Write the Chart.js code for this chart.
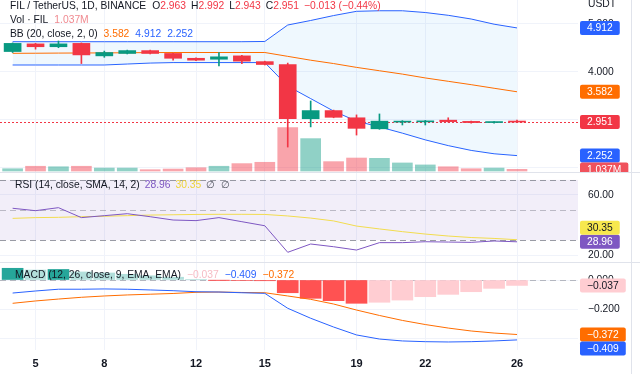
<!DOCTYPE html>
<html><head><meta charset="utf-8">
<script src="https://cdn.jsdelivr.net/npm/chart.js@4.4.1/dist/chart.umd.min.js"></script>
<style>
html,body{margin:0;padding:0;background:#fff;}
#wrap{position:relative;width:640px;height:374px;overflow:hidden;font-family:"Liberation Sans",Arial,sans-serif;color:#131722;}
canvas{position:absolute;left:0;}
.row{position:absolute;display:flex;font-size:10.3px;line-height:12px;white-space:nowrap;}
.row span{display:inline-block;}
#vline{position:absolute;left:631px;top:0;width:1px;height:374px;background:#e0e3eb;}
</style></head><body>
<div id="wrap">
<canvas id="c1" width="640" height="172" style="top:0;width:640px;height:172px"></canvas>
<canvas id="c2" width="640" height="90" style="top:172px;width:640px;height:90px"></canvas>
<canvas id="c3" width="640" height="112" style="top:262px;width:640px;height:112px"></canvas>
<div id="vline"></div>
<div id="legend"></div>
</div>
<script>
// ---------- data ----------
const days    = [4,5,6,7,8,9,10,11,12,13,14,15,16,17,18,19,20,21,22,23,24,25,26];
const opens   = [4.42,4.58,4.52,4.59,4.33,4.38,4.44,4.38,4.28,4.26,4.33,4.21,4.15,3.02,3.19,3.04,2.81,2.95,2.955,2.99,2.965,2.94,2.963];
const highs   = [4.60,4.59,4.64,4.60,4.43,4.45,4.45,4.39,4.29,4.40,4.34,4.22,4.18,3.39,3.20,3.10,3.12,2.98,2.985,3.04,2.97,2.96,2.992];
const lows    = [4.40,4.47,4.50,4.17,4.30,4.37,4.37,4.24,4.23,4.12,4.17,4.14,2.43,2.85,3.04,2.68,2.80,2.89,2.89,2.95,2.93,2.93,2.943];
const closes  = [4.59,4.52,4.58,4.35,4.40,4.44,4.38,4.28,4.24,4.31,4.22,4.15,3.02,3.19,3.05,2.82,2.97,2.97,2.975,2.96,2.94,2.955,2.951];
const volumes = [1.4,2.9,2.6,2.9,1.8,1.8,0.8,1.2,2.0,2.9,4.5,5.3,26.4,19.7,5.7,7.9,7.7,4.9,3.7,2.6,1.4,1.8,1.037]; // millions
const bbUpper = [4.625,4.625,4.625,4.625,4.625,4.625,4.625,4.625,4.625,4.625,4.625,4.63,4.973,5.067,5.17,5.258,5.27,5.27,5.233,5.175,5.098,4.99,4.912];
const bbBasis = [4.383,4.385,4.388,4.39,4.392,4.395,4.398,4.40,4.40,4.40,4.40,4.40,4.32,4.24,4.17,4.09,4.02,3.95,3.87,3.80,3.73,3.655,3.582];
const bbLower = [4.14,4.14,4.14,4.14,4.14,4.16,4.18,4.19,4.19,4.19,4.19,4.19,3.70,3.44,3.18,2.97,2.85,2.72,2.58,2.46,2.36,2.29,2.252];
const rsi     = [51.2,49.6,51.6,45.0,46.3,47.6,45.6,43.4,43.0,45.0,42.3,39.6,22.0,27.5,25.7,23.5,28.4,28.4,29.0,28.8,28.6,29.5,28.96];
const rsiMA   = [44.5,45.0,45.2,45.6,45.9,46.3,46.7,46.9,47.1,47.2,47.2,47.1,46.1,44.7,42.8,39.4,37.5,35.7,34.1,32.8,31.8,31.2,30.35];
const macd    = [-0.089,-0.075,-0.063,-0.063,-0.061,-0.063,-0.068,-0.073,-0.080,-0.082,-0.087,-0.091,-0.193,-0.261,-0.321,-0.375,-0.403,-0.416,-0.421,-0.423,-0.421,-0.416,-0.409];
const signal  = [-0.159,-0.143,-0.130,-0.118,-0.109,-0.102,-0.097,-0.092,-0.084,-0.082,-0.085,-0.087,-0.109,-0.132,-0.164,-0.205,-0.242,-0.276,-0.304,-0.328,-0.348,-0.362,-0.372];
const hist    = [0.080,0.068,0.072,0.055,0.048,0.039,0.029,0.019,0.004,-0.001,-0.003,-0.005,-0.087,-0.125,-0.141,-0.159,-0.152,-0.137,-0.114,-0.098,-0.080,-0.057,-0.037];
const timeTicks  = [5,8,12,15,19,22,26];
const priceTicks = [5,4,3,2];
const rsiTicks   = [60,20];
const macdTicks  = [0,-0.2,-0.4];
const rsiBands   = [70,50,30];

// ---------- style ----------
const FONT = '"Liberation Sans", Arial, sans-serif';
const UP = '#089981', DN = '#f23645';
const BLUE = '#2962ff', ORANGE = '#ff6d00', PURPLE = '#7e57c2', YELLOW = '#f2dc4e';
const GRID = '#f0f3fa';
const X_MIN = 3.45, X_MAX = 28.66;
const last = days.length - 1;
const fmt = (v, d) => (v < 0 ? '\u2212' : '') + Math.abs(v).toFixed(d);
const pts = arr => days.map((d, i) => ({x: d, y: arr[i]}));
const isUp = closes.map((c, i) => c >= opens[i]);

function xAxis(show) {
  return {
    type: 'linear', min: X_MIN, max: X_MAX, offset: false,
    afterBuildTicks: s => { s.ticks = timeTicks.map(v => ({value: v})); },
    afterFit: s => { s.height = show ? 24 : 0; s.paddingLeft = 0; s.paddingRight = 0; },
    grid: {color: GRID, drawTicks: false, offset: false},
    border: {display: false},
    ticks: {display: show, padding: 7, color: '#131722', maxRotation: 0,
      font: {size: 11, weight: 'bold', family: FONT}, callback: v => String(v)}
  };
}
function yAxis(min, max, ticks, dec) {
  return {
    position: 'right', min, max,
    afterBuildTicks: s => { s.ticks = ticks.map(v => ({value: v})); },
    afterFit: s => { s.width = 62; s.paddingTop = 0; s.paddingBottom = 0; },
    grid: {color: GRID, drawTicks: false},
    border: {display: false},
    ticks: {padding: 10, color: '#131722', font: {size: 10.3, family: FONT}, callback: v => fmt(v, dec)}
  };
}

function roundRect(ctx, x, y, w, h, r) {
  ctx.beginPath();
  ctx.moveTo(x + r, y); ctx.lineTo(x + w - r, y); ctx.quadraticCurveTo(x + w, y, x + w, y + r);
  ctx.lineTo(x + w, y + h - r); ctx.quadraticCurveTo(x + w, y + h, x + w - r, y + h);
  ctx.lineTo(x + r, y + h); ctx.quadraticCurveTo(x, y + h, x, y + h - r);
  ctx.lineTo(x, y + r); ctx.quadraticCurveTo(x, y, x + r, y); ctx.closePath();
}

const deco = {
  id: 'deco',
  beforeDatasetsDraw(chart, args, o) {
    const {ctx, chartArea: a} = chart; const y = chart.scales.y;
    ctx.save();
    (o.bands || []).forEach(b => {
      const y1 = y.getPixelForValue(b.from), y2 = y.getPixelForValue(b.to);
      ctx.fillStyle = b.color; ctx.fillRect(a.left, Math.min(y1, y2), a.right - a.left, Math.abs(y2 - y1));
    });
    (o.hlines || []).forEach(h => {
      const py = Math.round(y.getPixelForValue(h.value)) + 0.5;
      ctx.strokeStyle = h.color; ctx.lineWidth = 1; ctx.setLineDash(h.dash || []);
      ctx.beginPath(); ctx.moveTo(a.left, py); ctx.lineTo(a.right, py); ctx.stroke();
    });
    ctx.restore();
  },
  afterDraw(chart, args, o) {
    const {ctx, chartArea: a} = chart;
    ctx.save();
    if (o.sepTop) { ctx.fillStyle = '#e0e3eb'; ctx.fillRect(0, 0, chart.width, 1); }
    const H = 14, placed = [];
    (o.labels || []).forEach(l => {
      let cy = chart.scales[l.axis].getPixelForValue(l.value);
      for (let k = 0; k < 5; k++) {
        const hit = placed.find(p => Math.abs(p - cy) < H);
        if (hit === undefined) break;
        cy = cy < hit ? hit - H : hit + H;
      }
      placed.push(cy);
      ctx.font = '10.3px ' + FONT;
      const tw = ctx.measureText(l.text).width;
      const x0 = a.right + 2;
      roundRect(ctx, x0, cy - H / 2, tw + 14, H, 2);
      ctx.fillStyle = l.bg; ctx.fill();
      ctx.fillStyle = l.fg || '#ffffff'; ctx.textBaseline = 'middle'; ctx.textAlign = 'left';
      ctx.fillText(l.text, x0 + 7, cy + 0.5);
    });
    ctx.restore();
  }
};

const base = {
  responsive: false, animation: false, devicePixelRatio: 1, events: [],
  layout: {padding: 0},
  elements: {point: {radius: 0}, line: {tension: 0, borderWidth: 1}}
};

// ---------- price pane ----------
new Chart(document.getElementById('c1'), {
  type: 'line',
  data: {datasets: [
    {type: 'bar', data: days.map((d, i) => ({x: d, y: [opens[i], closes[i]]})),
      backgroundColor: isUp.map(u => u ? UP : DN), barThickness: 17, minBarLength: 1, grouped: false, order: 0},
    {type: 'bar', data: days.map((d, i) => ({x: d, y: [lows[i], highs[i]]})),
      backgroundColor: isUp.map(u => u ? UP : DN), barThickness: 1, grouped: false, order: 1},
    {data: pts(bbUpper), borderColor: BLUE, fill: {target: '+2'}, backgroundColor: 'rgba(33,150,243,0.07)', order: 3},
    {data: pts(bbBasis), borderColor: ORANGE, fill: false, order: 2},
    {data: pts(bbLower), borderColor: BLUE, fill: false, order: 3},
    {type: 'bar', yAxisID: 'yv', data: pts(volumes),
      backgroundColor: isUp.map(u => u ? 'rgba(8,153,129,0.45)' : 'rgba(242,54,69,0.45)'),
      barThickness: 20, grouped: false, order: 10}
  ]},
  options: Object.assign({}, base, {
    scales: {
      x: xAxis(false),
      y: yAxis(1.9104, 5.494, priceTicks, 3),
      yv: {display: false, min: -0.6, max: 104}
    },
    plugins: {legend: {display: false}, tooltip: {enabled: false},
      deco: {
        hlines: [{value: closes[last], color: DN, dash: [2, 2]}],
        labels: [
          {axis: 'y', value: closes[last], text: closes[last].toFixed(3), bg: DN},
          {axis: 'y', value: bbUpper[last], text: bbUpper[last].toFixed(3), bg: BLUE},
          {axis: 'y', value: bbBasis[last], text: bbBasis[last].toFixed(3), bg: ORANGE},
          {axis: 'y', value: bbLower[last], text: bbLower[last].toFixed(3), bg: BLUE},
          {axis: 'yv', value: volumes[last], text: volumes[last].toFixed(3) + 'M', bg: '#f0525c'}
        ]
      }}
  }),
  plugins: [deco]
});

// ---------- RSI pane ----------
new Chart(document.getElementById('c2'), {
  type: 'line',
  data: {datasets: [
    {data: pts(rsi), borderColor: PURPLE, order: 0},
    {data: pts(rsiMA), borderColor: YELLOW, order: 1}
  ]},
  options: Object.assign({}, base, {
    scales: {x: xAxis(false), y: yAxis(15.57, 75.25, rsiTicks, 2)},
    plugins: {legend: {display: false}, tooltip: {enabled: false},
      deco: {
        sepTop: true,
        bands: [{from: rsiBands[0], to: rsiBands[2], color: 'rgba(126,87,194,0.1)'}],
        hlines: [
          {value: rsiBands[0], color: 'rgba(120,123,134,0.75)', dash: [6, 4]},
          {value: rsiBands[1], color: 'rgba(120,123,134,0.45)', dash: [6, 4]},
          {value: rsiBands[2], color: 'rgba(120,123,134,0.75)', dash: [6, 4]}
        ],
        labels: [
          {axis: 'y', value: rsi[last], text: rsi[last].toFixed(2), bg: PURPLE},
          {axis: 'y', value: rsiMA[last], text: rsiMA[last].toFixed(2), bg: '#f7e84e', fg: '#131722'}
        ]
      }}
  }),
  plugins: [deco]
});

// ---------- MACD pane ----------
const histColors = hist.map((h, i) => {
  const p = i > 0 ? hist[i - 1] : h - 1;
  if (h >= 0) return h >= p ? '#26a69a' : '#b2dfdb';
  return h < p ? '#ff5252' : '#ffcdd2';
});
new Chart(document.getElementById('c3'), {
  type: 'line',
  data: {datasets: [
    {type: 'bar', data: pts(hist), backgroundColor: histColors, barThickness: 21, grouped: false, order: 5},
    {data: pts(macd), borderColor: BLUE, order: 0},
    {data: pts(signal), borderColor: ORANGE, order: 1}
  ]},
  options: Object.assign({}, base, {
    scales: {x: xAxis(true), y: yAxis(-0.4778, 0.1229, macdTicks, 3)},
    plugins: {legend: {display: false}, tooltip: {enabled: false},
      deco: {
        sepTop: true,
        hlines: [{value: 0, color: 'rgba(120,123,134,0.5)', dash: [6, 4]}],
        labels: [
          {axis: 'y', value: hist[last], text: fmt(hist[last], 3), bg: '#ffcdd2', fg: '#131722'},
          {axis: 'y', value: signal[last], text: fmt(signal[last], 3), bg: ORANGE},
          {axis: 'y', value: macd[last], text: fmt(macd[last], 3), bg: BLUE}
        ]
      }}
  }),
  plugins: [deco]
});

// ---------- legends (real text) ----------
const L = document.getElementById('legend');
function row(x, cy, parts) {
  const d = document.createElement('div');
  d.className = 'row'; d.style.left = x + 'px'; d.style.top = (cy - 6) + 'px';
  parts.forEach(p => {
    const s = document.createElement('span');
    s.textContent = p[0];
    if (p[1]) s.style.color = p[1];
    if (p[2] !== undefined) s.style.marginLeft = p[2] + 'px';
    d.appendChild(s);
  });
  L.appendChild(d);
}
const chg = closes[last] - closes[last - 1];
row(10, 6, [
  ['FIL / TetherUS, 1D, BINANCE'],
  ['O', null, 6], [opens[last].toFixed(3), DN],
  ['H', null, 5], [highs[last].toFixed(3), DN],
  ['L', null, 5], [lows[last].toFixed(3), DN],
  ['C', null, 5], [closes[last].toFixed(3), DN],
  ['\u22120.013 (\u22120.44%)', DN, 5]
]);
row(10, 20, [['Vol \u00b7 FIL'], [volumes[last].toFixed(3) + 'M', '#f08a90', 6]]);
row(10, 34, [
  ['BB (20, close, 2, 0)'],
  [bbBasis[last].toFixed(3), ORANGE, 6],
  [bbUpper[last].toFixed(3), BLUE, 6],
  [bbLower[last].toFixed(3), BLUE, 6]
]);
row(15, 185, [
  ['RSI (14, close, SMA, 14, 2)'],
  [rsi[last].toFixed(2), PURPLE, 5],
  [rsiMA[last].toFixed(2), '#eed43a', 5],
  ['\u2205', '#50535e', 5], ['\u2205', '#50535e', 6]
]);
row(15, 275, [
  ['MACD (12, 26, close, 9, EMA, EMA)'],
  [fmt(hist[last], 3), '#f6bcc4', 6],
  [fmt(macd[last], 3), BLUE, 6],
  [fmt(signal[last], 3), ORANGE, 6]
]);
row(588, 4, [['USDT']]);
</script>
</body></html>
